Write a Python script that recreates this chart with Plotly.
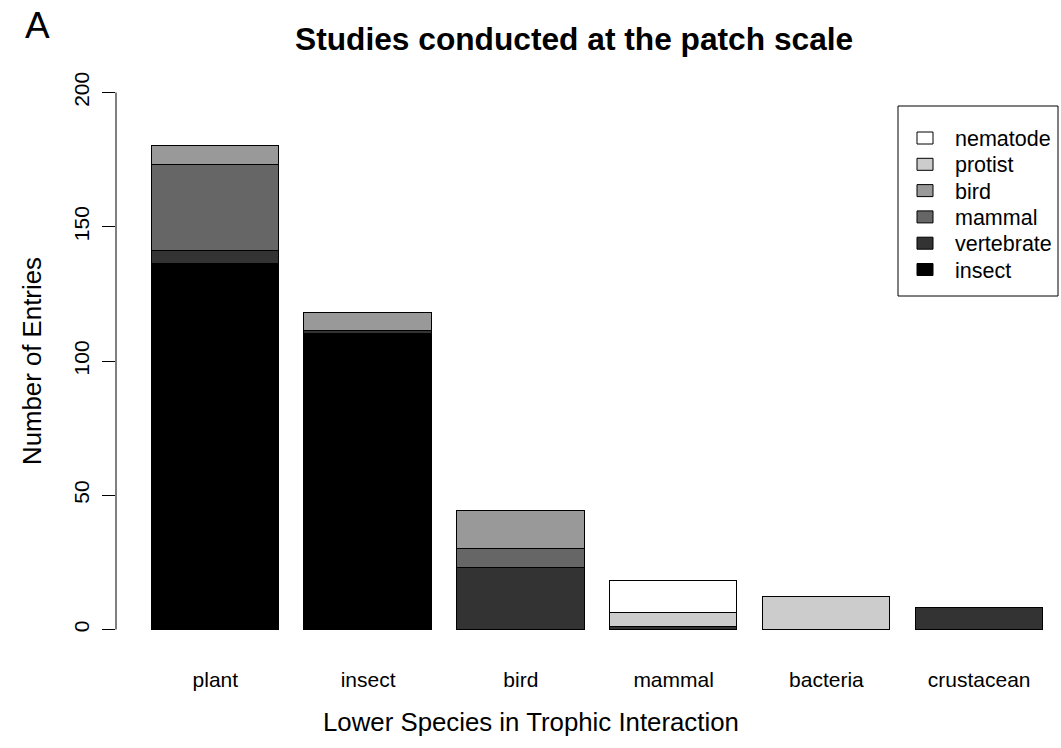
import plotly.graph_objects as go

# Lower species (x categories) and the upper-species groups stacked in each bar
lower_species = ["plant", "insect", "bird", "mammal", "bacteria", "crustacean"]
group_names = ["insect", "vertebrate", "mammal", "bird", "protist", "nematode"]
group_colors = ["#000000", "#333333", "#666666", "#999999", "#CCCCCC", "#FFFFFF"]

insect = [136, 110, 0, 0, 0, 0]
vertebrate = [5, 1, 23, 1, 0, 8]
mammal = [32, 0, 7, 0, 0, 0]
bird = [7, 7, 14, 0, 0, 0]
protist = [0, 0, 0, 5, 12, 0]
nematode = [0, 0, 0, 12, 0, 0]
series = [insect, vertebrate, mammal, bird, protist, nematode]

y_ticks = [0, 50, 100, 150, 200]

# bar centres as in R's barplot (width 1, space 0.2)
bar_pos = [0.7 + 1.2 * i for i in range(len(lower_species))]

FONT = "Liberation Sans, Arial, Helvetica, sans-serif"
W, H = 1061, 748
ML, MR, MT, MB = 116, 0, 71, 97

fig = go.Figure()
for name, color, vals in zip(group_names, group_colors, series):
    fig.add_trace(go.Bar(
        x=bar_pos, y=vals, name=name, width=1.0,
        marker=dict(color=color, line=dict(color="#000000", width=1)),
        showlegend=False,
    ))

# pixel -> paper helpers for the hand-drawn legend and labels
def px_x(p):
    return (p - ML) / (W - ML - MR)

def px_y(p):
    return 1 - (p - MT) / (H - MT - MB)

shapes = []
annotations = []
shapes.append(dict(type="rect", xref="paper", yref="paper",
                   x0=px_x(898), x1=px_x(1058), y0=px_y(296), y1=px_y(106),
                   line=dict(color="#000000", width=1), fillcolor="rgba(0,0,0,0)"))
legend_order = list(zip(group_names, group_colors))[::-1]
for i, (name, color) in enumerate(legend_order):
    cy = 138 + i * 26.3
    shapes.append(dict(type="rect", xref="paper", yref="paper",
                       x0=px_x(917), x1=px_x(933), y0=px_y(cy + 6), y1=px_y(cy - 6),
                       line=dict(color="#000000", width=1), fillcolor=color))
    annotations.append(dict(x=px_x(953), y=px_y(cy + 1), xref="paper", yref="paper",
                            text=name, showarrow=False, xanchor="left", yanchor="middle",
                            font=dict(family=FONT, size=21.5, color="#000000")))

# y axis line spanning only 0..200
shapes.append(dict(type="line", xref="paper", yref="y", x0=0, x1=0, y0=0, y1=200,
                   line=dict(color="#000000", width=1)))

annotations += [
    dict(x=px_x(573.5), y=px_y(39), xref="paper", yref="paper",
         text="<b>Studies conducted at the patch scale</b>", showarrow=False,
         xanchor="center", yanchor="middle", font=dict(family=FONT, size=31.7, color="#000000")),
    dict(x=px_x(37), y=px_y(26), xref="paper", yref="paper", text="A", showarrow=False,
         xanchor="center", yanchor="middle", font=dict(family=FONT, size=37, color="#000000")),
    dict(x=px_x(531), y=px_y(722), xref="paper", yref="paper",
         text="Lower Species in Trophic Interaction", showarrow=False,
         xanchor="center", yanchor="middle", font=dict(family=FONT, size=25.8, color="#000000")),
    dict(x=px_x(32), y=px_y(361), xref="paper", yref="paper",
         text="Number of Entries", showarrow=False, textangle=-90,
         xanchor="center", yanchor="middle", font=dict(family=FONT, size=25.8, color="#000000")),
]

fig.update_layout(
    width=W, height=H,
    margin=dict(l=ML, r=MR, t=MT, b=MB, pad=0),
    paper_bgcolor="white", plot_bgcolor="white",
    barmode="stack", bargap=0,
    shapes=shapes, annotations=annotations,
    xaxis=dict(range=[-0.0804, 7.343], tickvals=bar_pos, ticktext=lower_species,
               showgrid=False, zeroline=False, showline=False, ticks="",
               ticklabelstandoff=14,
               tickfont=dict(family=FONT, size=21, color="#000000")),
    yaxis=dict(range=[-8, 208], tickvals=y_ticks, ticktext=[str(v) for v in y_ticks],
               showgrid=False, zeroline=False, showline=False,
               ticks="outside", ticklen=13, tickcolor="#000000", tickwidth=1,
               tickangle=-90, ticklabelstandoff=5,
               tickfont=dict(family=FONT, size=21, color="#000000")),
    showlegend=False,
)

fig.write_html("out.html")
